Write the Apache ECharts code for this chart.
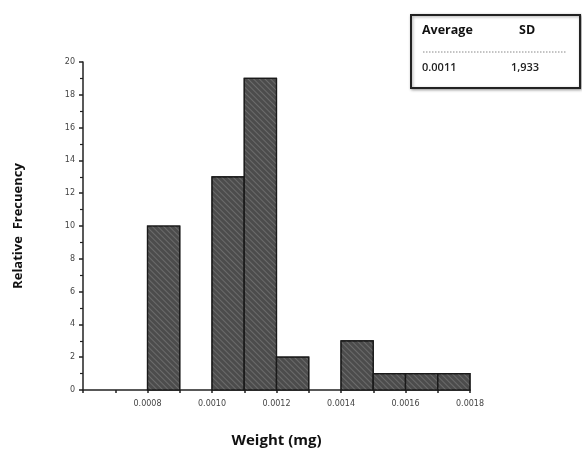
<!DOCTYPE html>
<html><head><meta charset="utf-8">
<script src="https://cdn.jsdelivr.net/npm/echarts@6/dist/echarts.min.js"></script>
<style>html,body{margin:0;padding:0;background:#fff}#c{width:582px;height:453px}</style>
</head><body><div id="c"></div>
<script>
// bins: [start, end]
var binStarts = [0.0008, 0.0010, 0.0011, 0.0012, 0.0014, 0.0015, 0.0016, 0.0017];
var binEnds   = [0.0009, 0.0011, 0.0012, 0.0013, 0.0015, 0.0016, 0.0017, 0.0018];
var frequencies = [10, 13, 19, 2, 3, 1, 1, 1];
var xTickLabels = ['0.0008','0.0010','0.0012','0.0014','0.0016','0.0018'];
var statHeaders = ['Average', 'SD'];
var statValues = ['0.0011', '1,933'];

var data = binStarts.map(function(s, i){ return [s, binEnds[i], frequencies[i]]; });

var chart = echarts.init(document.getElementById('c'));
chart.setOption({
  animation: false,
  backgroundColor: '#fff',
  grid: {left: 83, right: 112, top: 62, bottom: 61},
  xAxis: {
    type: 'value', min: 0.0006, max: 0.0018, interval: 0.0001,
    name: 'Weight (mg)', nameLocation: 'middle', nameGap: 43,
    nameTextStyle: {fontFamily: 'Open Sans', fontWeight: 'bold', fontSize: 15, color: '#111'},
    axisLine: {lineStyle: {color: '#222', width: 1.5}},
    axisTick: {inside: false, length: 3, lineStyle: {color: '#222', width: 1.5}},
    splitLine: {show: false},
    axisLabel: {
      fontSize: 8, color: '#444', fontFamily: 'DejaVu Sans', margin: 10,
      showMinLabel: true, showMaxLabel: true,
      formatter: function(v){
        var s = v.toFixed(4);
        return xTickLabels.indexOf(s) >= 0 ? s : '';
      }
    }
  },
  yAxis: {
    type: 'value', min: 0, max: 20, interval: 2,
    name: 'Relative  Frecuency', nameLocation: 'middle', nameGap: 58,
    nameTextStyle: {fontFamily: 'Open Sans', fontWeight: 'bold', fontSize: 13, color: '#111'},
    axisLine: {show: true, lineStyle: {color: '#222', width: 1.5}},
    axisTick: {show: true, length: 4, lineStyle: {color: '#222', width: 1.5}},
    minorTick: {show: true, splitNumber: 2, length: 3, lineStyle: {color: '#222', width: 1.2}},
    splitLine: {show: false},
    axisLabel: {fontSize: 8, color: '#444', fontFamily: 'DejaVu Sans', margin: 8}
  },
  series: [{
    type: 'custom',
    data: data,
    encode: {x: [0, 1], y: 2},
    renderItem: function(params, api){
      var p0 = api.coord([api.value(0), api.value(2)]);
      var p1 = api.coord([api.value(1), 0]);
      return {
        type: 'rect',
        shape: {x: p0[0], y: p0[1], width: p1[0] - p0[0], height: p1[1] - p0[1]},
        style: {
          fill: '#4c4c4c', stroke: '#1a1a1a', lineWidth: 1.2,
          decal: {
            symbol: 'rect', dashArrayX: [1, 0], dashArrayY: [1, 3],
            rotation: Math.PI / 4, color: 'rgba(200,200,200,0.25)'
          }
        }
      };
    }
  }],
  graphic: [
    {type: 'rect', shape: {x: 411, y: 15, width: 169, height: 73},
     style: {fill: '#fff', stroke: '#222', lineWidth: 2, shadowBlur: 3, shadowColor: 'rgba(0,0,0,0.35)', shadowOffsetX: 1, shadowOffsetY: 1}},
    {type: 'text', left: 422, top: 24, style: {text: statHeaders[0], font: 'bold 12.5px "Open Sans"', fill: '#111'}},
    {type: 'text', left: 519, top: 24, style: {text: statHeaders[1], font: 'bold 12.5px "Open Sans"', fill: '#111'}},
    {type: 'line', shape: {x1: 423, y1: 52, x2: 566, y2: 52}, style: {stroke: '#888', lineWidth: 1, lineDash: [1.5, 1.5]}},
    {type: 'text', left: 422, top: 62, style: {text: statValues[0], font: '600 11px "Open Sans"', fill: '#222'}},
    {type: 'text', left: 511, top: 62, style: {text: statValues[1], font: '600 11px "Open Sans"', fill: '#222'}}
  ]
});
</script></body></html>
